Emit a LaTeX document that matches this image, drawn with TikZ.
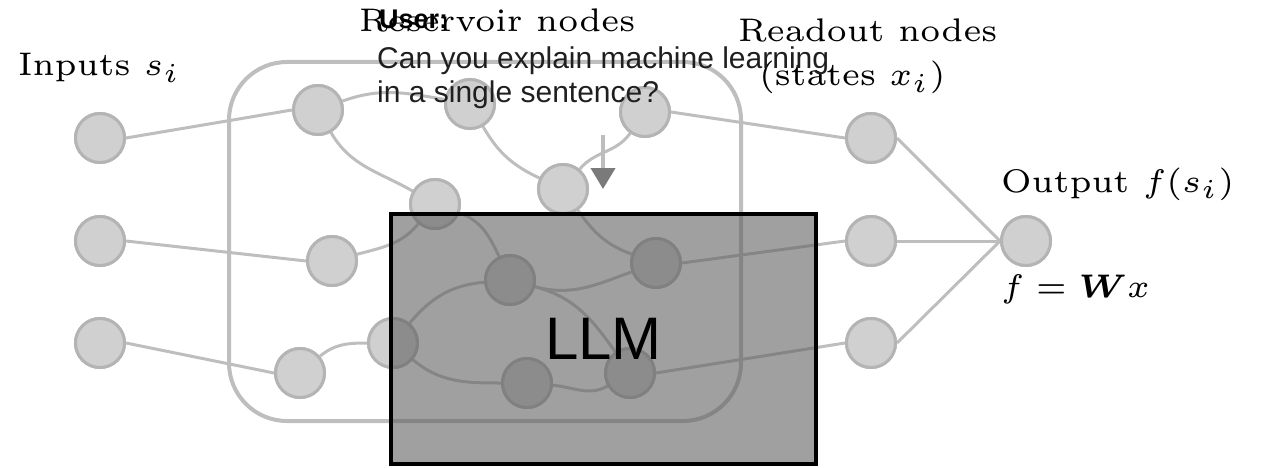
\documentclass[tikz,border=0pt]{standalone}
\usepackage{amsmath}
\usepackage{fontspec}
\newfontfamily\chatfont{Liberation Sans}
\usetikzlibrary{arrows.meta}
\definecolor{nodefill}{HTML}{D0D0D0}
\definecolor{nodeline}{HTML}{B4B4B4}
\definecolor{wireline}{HTML}{BEBEBE}
\definecolor{cueshaft}{HTML}{BDBDBD}
\definecolor{cuehead}{HTML}{7A7A7A}

\begin{document}
\begin{tikzpicture}
    [ x=1pt, y=1pt,
      unit/.style={circle, draw=nodeline, fill=nodefill, line width=3pt,
                   minimum size=49pt, inner sep=0pt},
      wire/.style={draw=wireline, line width=3pt},
      caption/.style={anchor=base west, inner sep=0pt, scale=5.45,
                      font=\fontsize{6}{7}\selectfont},
      llmbox/.style={draw=black, line width=4pt, fill=black!64,
                     fill opacity=.58, text opacity=1,
                     minimum width=425pt, minimum height=250pt,
                     font=\chatfont\fontsize{60}{72}\selectfont},
    ]
    \useasboundingbox (0, 0) rectangle (1266, -468);

    % reservoir frame
    \draw[wireline, line width=4pt, rounded corners=58pt]
        (229, -62) rectangle (741, -421);

    \foreach \n / \ypos in {1/138, 2/241, 3/343} {
        \node[unit] (in\n) at (100, -\ypos) {};
        \node[unit] (ro\n) at (871, -\ypos) {};
    }
    \node[unit] (out) at (1026, -241) {};
    \foreach \n / \x / \y in {1/318/110, 2/470/104, 3/645/112, 4/435/204,
                              5/563/189, 6/332/261, 7/510/280, 8/656/263,
                              9/393/343, 10/300/373, 11/527/383, 12/630/373} {
        \node[unit] (r\n) at (\x, -\y) {};
    }

    % inputs and readout
    \draw[wire] (in1.east) -- (r1.west);
    \draw[wire] (in2.east) -- (r6.west);
    \draw[wire] (in3.east) -- (r10.west);
    \draw[wire] (r3.east) -- (ro1.west);
    \draw[wire] (r8.east) -- (ro2.west);
    \draw[wire] (r12.east) -- (ro3.west);
    \foreach \n in {1,2,3}
        \draw[wire] (ro\n.east) -- (out.west);

    % recurrent links
    \draw[wire] (r1) to[out=20, in=170] (r2);
    \draw[wire] (r1) to[out=-60, in=150] (r4);
    \draw[wire] (r2) to[out=-60, in=155] (r5);
    \draw[wire] (r3) to[out=-125, in=50] (r5);
    \draw[wire] (r4) to[out=-20, in=115] (r7);
    \draw[wire] (r6) to[out=15, in=-130] (r4);
    \draw[wire] (r5) to[out=-55, in=160] (r8);
    \draw[wire] (r7) to[out=-15, in=-160] (r8);
    \draw[wire] (r9) to[out=50, in=-175] (r7);
    \draw[wire] (r7) to[out=-15, in=125] (r12);
    \draw[wire] (r9) to[out=-40, in=180] (r11);
    \draw[wire] (r11) to[out=-5, in=-150] (r12);
    \draw[wire] (r10) to[out=40, in=180] (r9);

    % redraw nodes over the links
    \foreach \n in {1,2,3} {
        \node[unit] at (in\n) {};
        \node[unit] at (ro\n) {};
    }
    \node[unit] at (out) {};
    \foreach \n in {1,...,12}
        \node[unit] at (r\n) {};

    \node[caption] (in-title) at (17, -76) {Inputs $s_i$};
    \node[caption] (res-title) at (358, -32) {Reservoir nodes};
    \node[caption] (ro-title) at (737, -42) {Readout nodes};
    \node[caption] (ro-sub) at (758, -86) {(states $x_i$)};
    \node[caption] (out-title) at (1000, -192) {Output $f(s_i)$};
    \node[caption] (out-rule) at (1000, -297) {$f = \boldsymbol{W} x$};

    \node[llmbox] (llm) at (603.5, -339) {LLM};

    % prompt
    \node[anchor=base west, inner sep=0pt,
          font=\chatfont\bfseries\fontsize{27}{30}\selectfont]
        (user) at (379, -29) {User:};
    \node[anchor=base west, inner sep=0pt, align=left, text=black!88,
          font=\chatfont\fontsize{30}{35}\selectfont]
        (prompt) at (377, -103) {Can you explain machine learning\\in a single sentence?};
    \coordinate (ask) at (603, -135);
    \coordinate (reply) at (603, -189);
    \draw[cueshaft, line width=4pt,
          -{Triangle[length=21pt, width=24pt, color=cuehead]}] (ask) -- (reply);
\end{tikzpicture}
\end{document}
